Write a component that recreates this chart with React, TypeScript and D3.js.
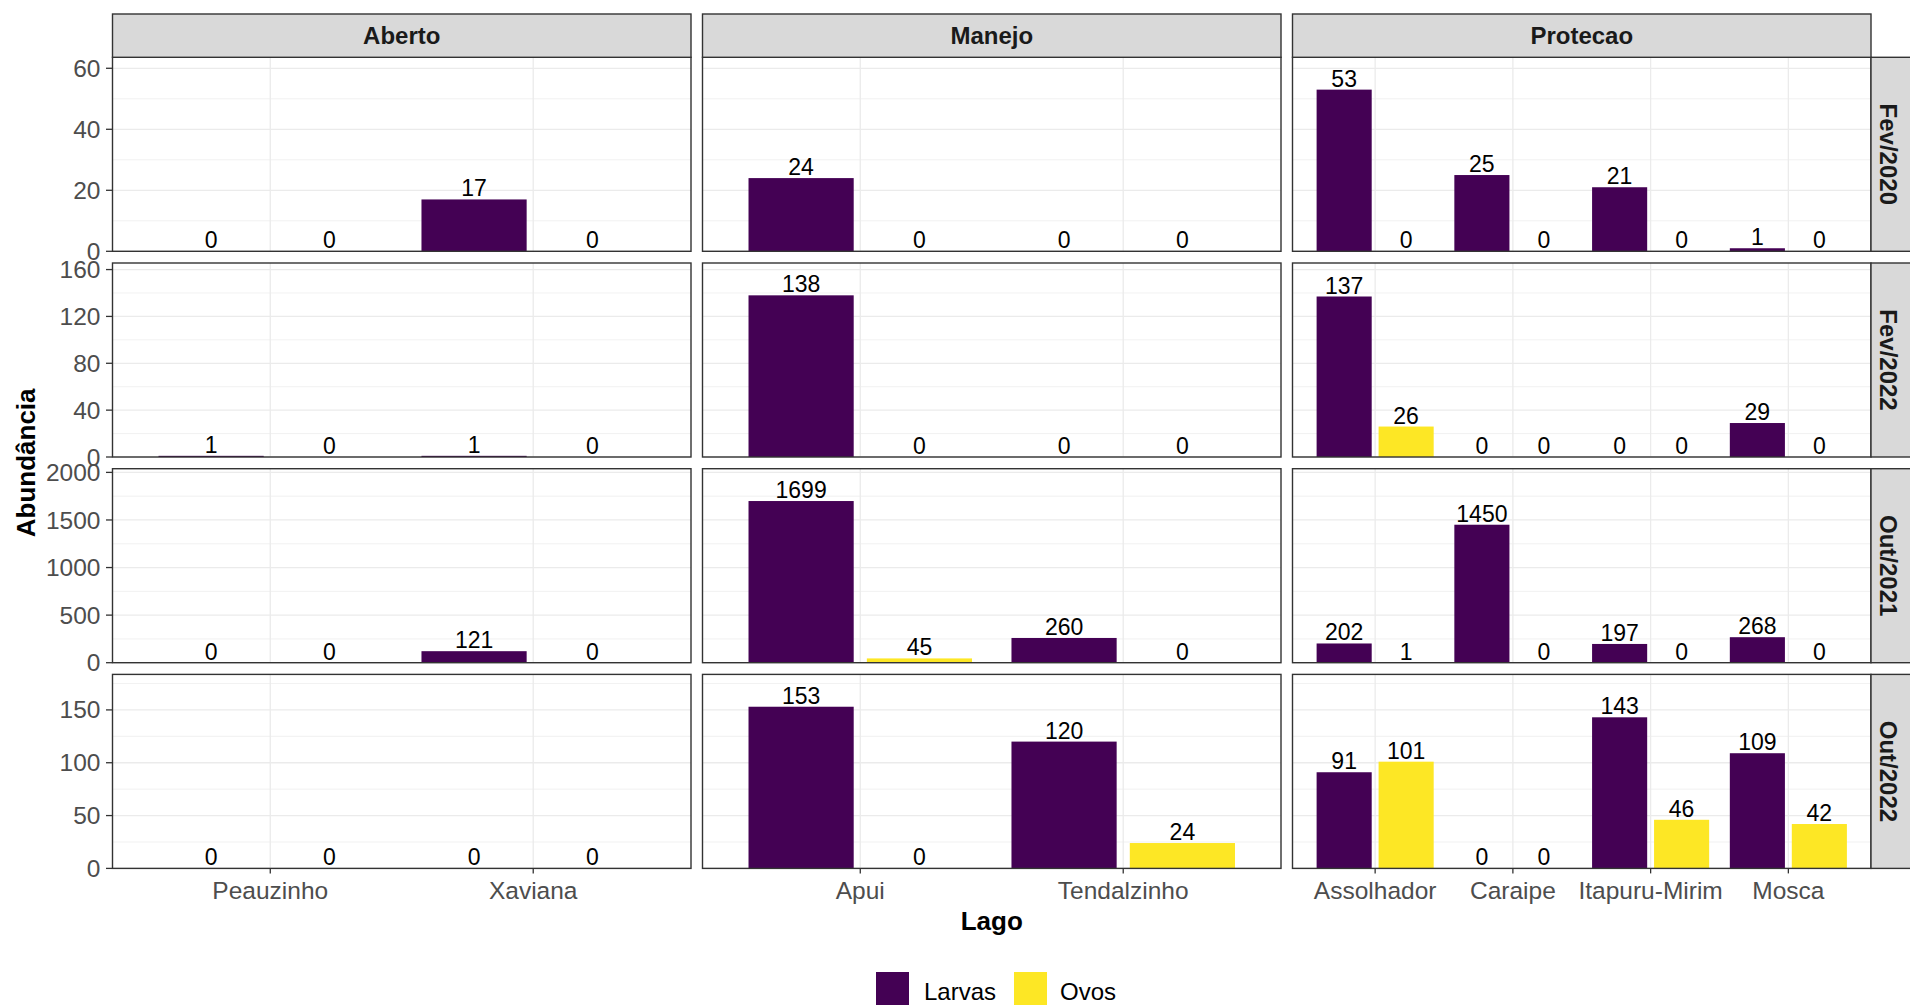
import React from "react";
import * as d3 from "d3";

// ---------- data ----------
const treatments = ["Aberto", "Manejo", "Protecao"];
const periods = ["Fev/2020", "Fev/2022", "Out/2021", "Out/2022"];
const lakesAberto = ["Peauzinho", "Xaviana"];
const lakesManejo = ["Apui", "Tendalzinho"];
const lakesProtecao = ["Assolhador", "Caraipe", "Itapuru-Mirim", "Mosca"];
const stages = ["Larvas", "Ovos"];
const stageColors = ["#440154", "#FDE725"];

// lake order: Peauzinho, Xaviana, Apui, Tendalzinho, Assolhador, Caraipe, Itapuru-Mirim, Mosca
const larvasFev2020 = [0, 17, 24, 0, 53, 25, 21, 1];
const ovosFev2020 = [0, 0, 0, 0, 0, 0, 0, 0];
const larvasFev2022 = [1, 1, 138, 0, 137, 0, 0, 29];
const ovosFev2022 = [0, 0, 0, 0, 26, 0, 0, 0];
const larvasOut2021 = [0, 121, 1699, 260, 202, 1450, 197, 268];
const ovosOut2021 = [0, 0, 45, 0, 1, 0, 0, 0];
const larvasOut2022 = [0, 0, 153, 120, 91, 0, 143, 109];
const ovosOut2022 = [0, 0, 0, 24, 101, 0, 46, 42];

const yTicksFev2020 = [0, 20, 40, 60];
const yTicksFev2022 = [0, 40, 80, 120, 160];
const yTicksOut2021 = [0, 500, 1000, 1500, 2000];
const yTicksOut2022 = [0, 50, 100, 150];

// ---------- derived ----------
const allLakes = [...lakesAberto, ...lakesManejo, ...lakesProtecao];
const lakesByTreatment = [lakesAberto, lakesManejo, lakesProtecao];
const larvasByPeriod = [larvasFev2020, larvasFev2022, larvasOut2021, larvasOut2022];
const ovosByPeriod = [ovosFev2020, ovosFev2022, ovosOut2021, ovosOut2022];
const yTicksByPeriod = [yTicksFev2020, yTicksFev2022, yTicksOut2021, yTicksOut2022];

// ---------- layout ----------
const W = 1910;
const H = 1005;
const panelLeft = 112.5;
const panelW = 578.5;
const gapX = 11.5;
const stripTop = 14;
const stripH = 43.3;
const panelTop = stripTop + stripH;
const panelH = 194;
const gapY = 11.7;
const rightStripW = 42;
const FONT = "'Liberation Sans', Arial, sans-serif";

export default function App() {
  const colX = treatments.map((_, i) => panelLeft + i * (panelW + gapX));
  const rowY = periods.map((_, j) => panelTop + j * (panelH + gapY));
  const panelsRight = colX[2] + panelW;
  const panelsBottom = rowY[3] + panelH;

  const elements: React.ReactNode[] = [];

  periods.forEach((period, j) => {
    const y0 = rowY[j];
    const larvas = larvasByPeriod[j];
    const ovos = ovosByPeriod[j];
    const maxV = d3.max([...larvas, ...ovos]) as number;
    const ys = d3.scaleLinear().domain([0, maxV * 1.2]).range([y0 + panelH, y0]);
    const ticks = yTicksByPeriod[j];
    const minor: number[] = [];
    for (let k = 0; k < ticks.length; k++) {
      const step = ticks[1] - ticks[0];
      const m = ticks[k] + step / 2;
      if (m < maxV * 1.2) minor.push(m);
    }

    treatments.forEach((tr, i) => {
      const x0 = colX[i];
      const lakes = lakesByTreatment[i];
      const n = lakes.length;
      const xs = d3.scaleLinear().domain([0.4, n + 0.6]).range([x0, x0 + panelW]);
      const key = `${j}-${i}`;
      elements.push(
        <rect key={`bg${key}`} x={x0} y={y0} width={panelW} height={panelH} fill="#fff" />
      );
      minor.forEach((m) =>
        elements.push(
          <line key={`mn${key}-${m}`} x1={x0} x2={x0 + panelW} y1={ys(m)} y2={ys(m)} stroke="#EBEBEB" strokeWidth={0.7} />
        )
      );
      ticks.forEach((t) =>
        elements.push(
          <line key={`mj${key}-${t}`} x1={x0} x2={x0 + panelW} y1={ys(t)} y2={ys(t)} stroke="#EBEBEB" strokeWidth={1.3} />
        )
      );
      lakes.forEach((lk, c) =>
        elements.push(
          <line key={`vx${key}-${c}`} x1={xs(c + 1)} x2={xs(c + 1)} y1={y0} y2={y0 + panelH} stroke="#EBEBEB" strokeWidth={1.3} />
        )
      );
      lakes.forEach((lk, c) => {
        const li = allLakes.indexOf(lk);
        const vals = [larvas[li], ovos[li]];
        vals.forEach((v, s) => {
          const center = c + 1 + (s === 0 ? -0.225 : 0.225);
          const bx = xs(center - 0.2);
          const bw = xs(center + 0.2) - bx;
          elements.push(
            <rect key={`b${key}-${c}-${s}`} x={bx} y={ys(v)} width={bw} height={ys(0) - ys(v)} fill={stageColors[s]} />
          );
        });
        vals.forEach((v, s) => {
          const center = c + 1 + (s === 0 ? -0.225 : 0.225);
          elements.push(
            <text key={`t${key}-${c}-${s}`} x={xs(center)} y={ys(v) - 3} textAnchor="middle" fontSize={23} fill="#000" fontFamily={FONT}>
              {v}
            </text>
          );
        });
      });
      elements.push(
        <rect key={`bd${key}`} x={x0} y={y0} width={panelW} height={panelH} fill="none" stroke="#333333" strokeWidth={1.4} />
      );
      if (j === periods.length - 1) {
        lakes.forEach((lk, c) => {
          elements.push(
            <line key={`xt${key}-${c}`} x1={xs(c + 1)} x2={xs(c + 1)} y1={y0 + panelH} y2={y0 + panelH + 5} stroke="#333333" strokeWidth={1.3} />
          );
          elements.push(
            <text key={`xl${key}-${c}`} x={xs(c + 1)} y={899} textAnchor="middle" fontSize={24.5} fill="#4D4D4D" fontFamily={FONT}>
              {lk}
            </text>
          );
        });
      }
    });

    ticks.forEach((t) => {
      elements.push(
        <line key={`yt${j}-${t}`} x1={panelLeft - 6.5} x2={panelLeft} y1={ys(t)} y2={ys(t)} stroke="#333333" strokeWidth={1.3} />
      );
      elements.push(
        <text key={`yl${j}-${t}`} x={panelLeft - 12} y={ys(t)} dy="0.35em" textAnchor="end" fontSize={24.5} fill="#4D4D4D" fontFamily={FONT}>
          {t}
        </text>
      );
    });

    elements.push(
      <rect key={`rs${j}`} x={panelsRight} y={y0} width={rightStripW} height={panelH} fill="#D9D9D9" stroke="#333333" strokeWidth={1.4} />
    );
    elements.push(
      <text key={`rst${j}`} transform={`translate(${panelsRight + 17.5},${y0 + panelH / 2}) rotate(90)`} textAnchor="middle" dy="0.35em" fontSize={24} fontWeight="bold" fill="#1A1A1A" fontFamily={FONT}>
        {period}
      </text>
    );
  });

  treatments.forEach((tr, i) => {
    elements.push(
      <rect key={`ts${i}`} x={colX[i]} y={stripTop} width={panelW} height={stripH} fill="#D9D9D9" stroke="#333333" strokeWidth={1.4} />
    );
    elements.push(
      <text key={`tst${i}`} x={colX[i] + panelW / 2} y={stripTop + stripH / 2} dy="0.36em" textAnchor="middle" fontSize={24} fontWeight="bold" fill="#1A1A1A" fontFamily={FONT}>
        {tr}
      </text>
    );
  });

  const centerX = (panelLeft + panelsRight) / 2;
  const centerY = (panelTop + panelsBottom) / 2;

  const legendX = [876, 1014];
  const legendTextX = [924, 1060];

  return (
    <svg width={W} height={H} style={{ position: "absolute", left: 0, top: 0, background: "#fff" }}>
      <rect x={0} y={0} width={W} height={H} fill="#fff" />
      {elements}
      <text x={centerX} y={930} textAnchor="middle" fontSize={26} fontWeight="bold" fill="#000" fontFamily={FONT}>
        Lago
      </text>
      <text transform={`translate(35,${centerY}) rotate(-90)`} textAnchor="middle" fontSize={26} fontWeight="bold" fill="#000" fontFamily={FONT}>
        Abundância
      </text>
      {stages.map((s, k) => (
        <g key={`lg${k}`}>
          <rect x={legendX[k]} y={972} width={33} height={33} fill={stageColors[k]} />
          <text x={legendTextX[k]} y={1000} fontSize={24} fill="#000" fontFamily={FONT}>
            {s}
          </text>
        </g>
      ))}
    </svg>
  );
}
